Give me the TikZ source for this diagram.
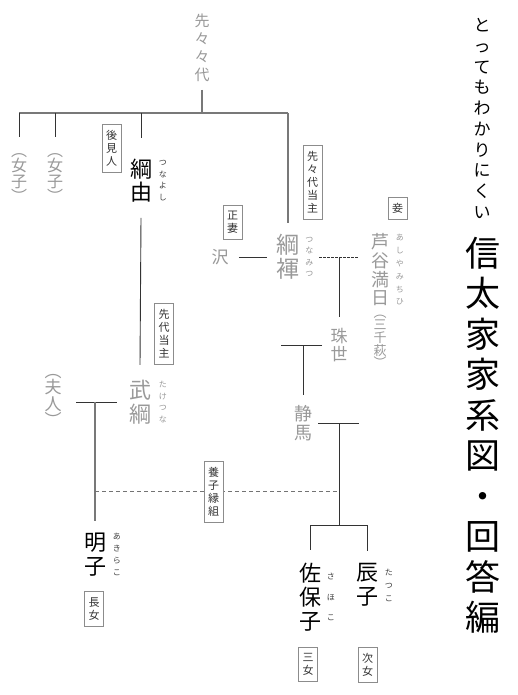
\documentclass[tikz,border=0pt]{standalone}
\usepackage{fontspec}
\setmainfont{Noto Sans CJK JP}
\usetikzlibrary{positioning}

\begin{document}
\begin{tikzpicture}[x=1pt, y=-1pt, thick]
    \tikzset{
        blackname/.style={inner sep=0pt, align=center, text=black, font=\fontsize{22}{23.5}\selectfont},
        grayname/.style={blackname, text=black!40},
        rubytext/.style={inner sep=0pt, align=center, text=black!75, font=\fontsize{8}{11.5}\selectfont},
        grayruby/.style={rubytext, text=black!40},
        rolebox/.style={draw=black!45, line width=0.5pt, fill=white, inner xsep=4pt, inner ysep=6pt, align=center, text=black!80, font=\fontsize{11}{13}\selectfont},
        thickline/.style={draw=black!53, line width=1.6pt},
        thinline/.style={draw=black!80, line width=0.9pt},
        marryline/.style={draw=black!80, line width=0.9pt, dash pattern=on 2.5pt off 1.5pt},
        adoptline/.style={draw=black!55, line width=0.6pt, dash pattern=on 4pt off 3pt}
    }
    \fill[white] (0,0) rectangle (518,695);
    \useasboundingbox (0,0) rectangle (518,695);

    % Title
    \node[inner sep=0pt, align=center, font=\fontsize{17}{20.7}\selectfont] (subtitle) at (482,118.5) {と\\っ\\て\\も\\わ\\か\\り\\に\\く\\い};
    \node[inner sep=0pt, align=center, font=\fontsize{35}{40.5}\selectfont] (title) at (483,435) {信\\太\\家\\家\\系\\図\\・\\回\\答\\編};

    % Generation 0
    \node[grayname, font=\fontsize{15}{18}\selectfont] (senzen) at (202,47.5) {先\\々\\々\\代};
    \coordinate (top) at (202,113);

    % Generation 1
    \node[grayname, font=\fontsize{16}{16}\selectfont] (onna1) at (19,178) {︵\\[-1pt]女\\子\\[-1pt]︶};
    \node[grayname, font=\fontsize{16}{16}\selectfont] (onna2) at (55,178) {︵\\[-1pt]女\\子\\[-1pt]︶};
    \node[blackname] (tsunayoshi) at (141,180.5) {綱\\由};
    \node[rubytext, right=6pt of tsunayoshi] (tsunayoshiR) {つ\\な\\よ\\し};
    \node[grayname, font=\fontsize{23}{24}\selectfont] (tsunamitsu) at (288,257) {綱\\褌};
    \node[grayruby, right=5pt of tsunamitsu] (tsunamitsuR) {つ\\な\\み\\つ};
    \node[grayname, font=\fontsize{17}{17}\selectfont] (sawa) at (220,257) {沢};
    \node[grayname, font=\fontsize{18}{18.7}\selectfont] (ashiya) at (380,270) {芦\\谷\\満\\日};
    \node[grayruby, right=6pt of ashiya, font=\fontsize{8}{12.8}\selectfont] (ashiyaR) {あ\\し\\や\\み\\ち\\ひ};
    \node[grayname, font=\fontsize{13}{13}\selectfont] (mihagi) at (380,341) {︵\\[-1pt]三\\千\\萩\\[-1pt]︶};

    \node[rolebox] (kouken) at (111.5,148.5) {後\\見\\人};
    \node[rolebox] (seisai) at (232.5,222.5) {正\\妻};
    \node[rolebox] (senzendai) at (312.5,182.5) {先\\々\\代\\当\\主};
    \node[rolebox] (mekake) at (397.5,208.5) {妾};

    % Generation 2
    \node[grayname, font=\fontsize{17}{18}\selectfont] (tamayo) at (339,345) {珠\\世};
    \node[grayname] (taketsuna) at (140,402) {武\\綱};
    \node[grayruby, right=7pt of taketsuna] (taketsunaR) {た\\け\\つ\\な};
    \node[grayname, font=\fontsize{17}{17}\selectfont] (fujin) at (53,400) {︵\\[-1pt]夫\\人\\[-1pt]︶};
    \node[rolebox] (sendai) at (164,334) {先\\代\\当\\主};

    % Generation 3
    \node[grayname, font=\fontsize{18}{19}\selectfont] (shizuma) at (303,423) {静\\馬};

    % Generation 4
    \node[blackname] (akirako) at (95,554.5) {明\\子};
    \node[rubytext, right=6pt of akirako, font=\fontsize{8}{12}\selectfont] (akirakoR) {あ\\き\\ら\\こ};
    \node[blackname, font=\fontsize{22}{24}\selectfont] (sahoko) at (310,597) {佐\\保\\子};
    \node[rubytext, right=5pt of sahoko, font=\fontsize{8}{20.5}\selectfont] (sahokoR) {さ\\ほ\\こ};
    \node[blackname] (tatsuko) at (367,585) {辰\\子};
    \node[rubytext, right=6pt of tatsuko, font=\fontsize{8}{13}\selectfont] (tatsukoR) {た\\つ\\こ};

    \node[rolebox] (choujo) at (94,609) {長\\女};
    \node[rolebox] (sanjo) at (308,664.5) {三\\女};
    \node[rolebox] (jijo) at (367.5,664.5) {次\\女};

    % Lines
    \draw[thickline] ([yshift=-8pt]senzen.south) -- (top);
    \draw[thickline] (onna1 |- top) -- (tsunamitsu |- top);
    \draw[thinline] (onna1 |- top) -- (onna1 |- 0,137);
    \draw[thinline] (onna2 |- top) -- (onna2 |- 0,137);
    \draw[thinline] (tsunayoshi |- top) -- ([yshift=20pt]tsunayoshi.north);
    \draw[thickline] (tsunamitsu |- top) -- ([yshift=11pt]tsunamitsu.north);
    \draw[thinline] ([yshift=-15pt]tsunayoshi.south) -- ([yshift=15pt]taketsuna.north);

    \draw[thinline] ([xshift=10pt]sawa.east) -- ([xshift=-9pt]tsunamitsu.west);
    \coordinate (wed) at (339,257);
    \draw[marryline] ([xshift=-20pt]wed) -- ([xshift=20pt]wed);
    \draw[thinline] (wed) -- ([yshift=11pt]tamayo.north);

    \draw[thinline] ([xshift=-8pt]tamayo.west) -- ++(-41,0);
    \draw[thinline] (shizuma |- tamayo) -- ([yshift=10pt]shizuma.north);

    \draw[thinline] ([xshift=-12pt]taketsuna.west) -- ++(-41,0);
    \draw[thickline] (akirako |- taketsuna) -- ([yshift=12pt]akirako.north);

    \coordinate (sj) at (339,423);
    \coordinate (cj) at (339,525);
    \draw[thinline] ([xshift=6pt]shizuma.east) -- ++(41,0);
    \draw[thinline] (sj) -- (cj);
    \draw[thinline] (sahoko |- cj) -- (tatsuko |- cj);
    \draw[thinline] (sahoko |- cj) -- ([yshift=12pt]sahoko.north);
    \draw[thinline] (tatsuko |- cj) -- ([yshift=12pt]tatsuko.north);

    \coordinate (adopt) at (339,491);
    \draw[adoptline] (akirako |- adopt) -- (adopt);
    \node[rolebox] (youshi) at (213.5,491.5) {養\\子\\縁\\組};
\end{tikzpicture}
\end{document}
